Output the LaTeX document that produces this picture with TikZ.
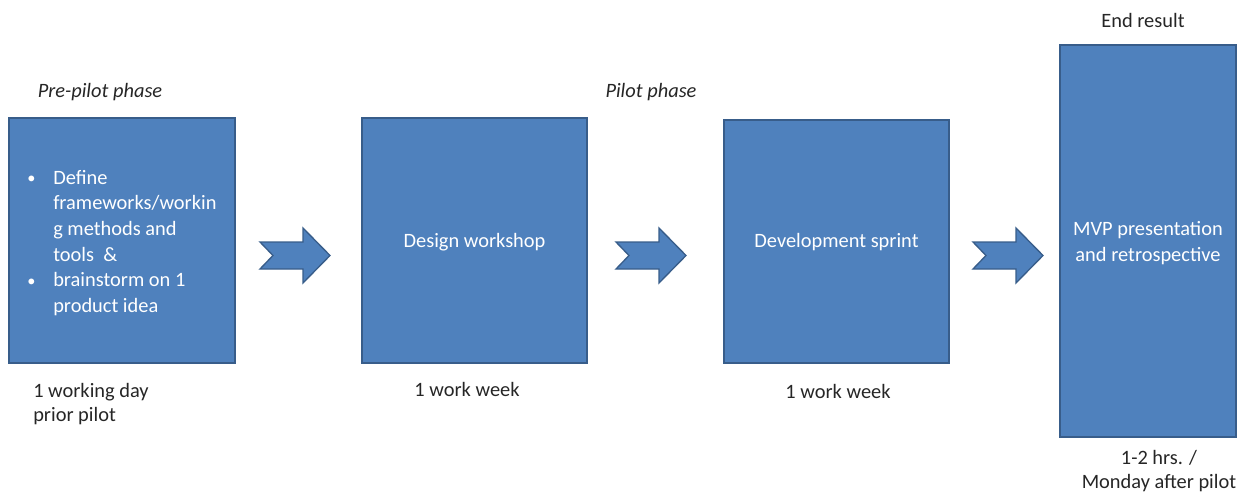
\documentclass[tikz,border=0pt]{standalone}
\usepackage{fontspec}
\setmainfont{Carlito}
\definecolor{boxblue}{HTML}{4F81BD}
\definecolor{boxedge}{HTML}{385D8A}
\definecolor{labeltext}{HTML}{262626}
\newcommand{\bulletmark}{\makebox[21pt][l]{\hspace{1.5pt}\raisebox{0.5pt}{\scalebox{0.8}{•}}}}
\newcommand{\bulletgap}{\makebox[21pt][l]{}}
\begin{document}
\begin{tikzpicture}[x=0.75pt,y=-0.75pt,
  phasebox/.style={draw=boxedge,line width=1.2pt,fill=boxblue,inner sep=0pt},
  boxtext/.style={text=white,font=\fontsize{15.3}{19.2}\selectfont,align=center},
  lbl/.style={text=labeltext,font=\fontsize{15.3}{18}\selectfont,inner sep=0pt},
  phaselbl/.style={text=labeltext,font=\fontsize{15.3}{18}\selectfont\itshape,inner sep=0pt},
  blockarrow/.style={draw=boxedge,line width=1pt,fill=boxblue,line join=miter}]
\useasboundingbox (0,0) rectangle (1250,496);
% boxes
\draw[phasebox] (9,118) rectangle (235,363);
\draw[phasebox] (362,118) rectangle (587,363);
\draw[phasebox] (724,120) rectangle (949,363);
\draw[phasebox] (1060,45) rectangle (1236,437);
\node[boxtext] (t2) at (474.5,242) {Design workshop};
\node[boxtext] (t3) at (836.5,242) {Development sprint};
\node[boxtext] (t4) at (1148,243) {MVP presentation\\and retrospective};
\node[boxtext,align=left,anchor=north west,inner sep=0pt] (t1) at (25,170)
 {\bulletmark Define\\
  \bulletgap frameworks/workin\\
  \bulletgap g methods and\\
  \bulletgap tools~~\&\\
  \bulletmark brainstorm on 1\\
  \bulletgap product idea};
% block arrows
\foreach \ax in {260,616,973}{
  \draw[blockarrow] (\ax,242) -- ++(43,0) -- ++(0,-14) -- ++(27,27.5) -- ++(-27,27.5)
     -- ++(0,-14) -- ++(-43,0) -- ++(13,-13.5) -- cycle;
}
% labels
\node[phaselbl] (p1) at (100,92) {Pre-pilot phase};
\node[phaselbl] (p2) at (651,92) {Pilot phase};
\node[lbl] (p3) at (1143,20) {End result};
\node[lbl,align=left,anchor=north west] (d1) at (33,383) {1 working day\\prior pilot};
\node[lbl] (d2) at (467,389) {1 work week};
\node[lbl] (d3) at (838,391) {1 work week};
\node[lbl,align=center] (d4) at (1159,471) {1-2 hrs. /\\Monday after pilot};
\end{tikzpicture}
\end{document}
